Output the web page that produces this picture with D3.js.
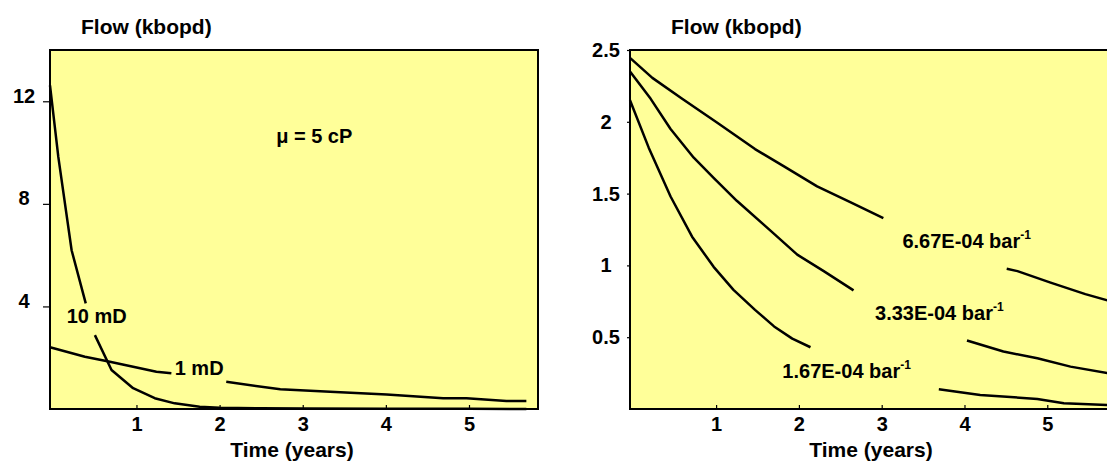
<!DOCTYPE html>
<html>
<head>
<meta charset="utf-8">
<script src="https://cdn.jsdelivr.net/npm/d3@7"></script>
<style>
  body { margin: 0; background: #fff; }
  text { font-family: "Liberation Sans", Arial, sans-serif; font-weight: bold; fill: #000; }
</style>
</head>
<body>
<svg width="1107" height="464"></svg>
<script>
// ---- data (null = break where a label sits) ----
const years10mD = [-0.04, 0.06, 0.22, 0.39, null, 0.50, 0.70, 0.96, 1.22, 1.46, 1.76, 2.0, 2.5, 3, 4, 5, 5.69];
const flow10mD  = [12.62, 9.83, 6.19, 4.12, null, 2.88, 1.52, 0.81, 0.42, 0.22, 0.09, 0.05, 0.03, 0.02, 0.01, 0.005, 0.003];

const years1mD = [-0.04, 0.38, 0.68, 0.96, 1.24, 1.42, null, 2.08, 2.73, 3.33, 4.01, 4.69, 4.97, 5.45, 5.69];
const flow1mD  = [2.41, 2.04, 1.84, 1.65, 1.45, 1.39, null, 1.06, 0.77, 0.67, 0.57, 0.42, 0.42, 0.31, 0.31];

const yearsC667 = [-0.04, 0.23, 0.59, 1.01, 1.47, 1.82, 2.22, 2.62, 3.02, null, 4.51, 4.64, 5.04, 5.46, 5.83];
const flowC667  = [2.445, 2.306, 2.16, 1.995, 1.81, 1.69, 1.55, 1.44, 1.33, null, 0.976, 0.96, 0.88, 0.80, 0.74];

const yearsC333 = [-0.04, 0.21, 0.45, 0.73, 0.97, 1.25, 1.66, 1.98, 2.30, 2.66, null, 4.03, 4.47, 4.88, 5.28, 5.83];
const flowC333  = [2.35, 2.16, 1.95, 1.75, 1.61, 1.45, 1.24, 1.075, 0.96, 0.826, null, 0.477, 0.40, 0.354, 0.295, 0.24];

const yearsC167 = [-0.04, 0.186, 0.45, 0.71, 0.97, 1.21, 1.47, 1.70, 1.92, 2.14, null, 3.69, 4.19, 4.88, 5.20, 5.83];
const flowC167  = [2.15, 1.82, 1.48, 1.20, 0.99, 0.83, 0.69, 0.575, 0.49, 0.43, null, 0.137, 0.098, 0.070, 0.040, 0.025];

const xTicks = [1, 2, 3, 4, 5];
const leftYTicks = [4, 8, 12];
const rightYTicks = [0.5, 1, 1.5, 2, 2.5];

const yTitle = 'Flow (kbopd)';
const xTitle = 'Time (years)';

const zip = (xs, ys) => xs.map((t, i) => ({t: t, v: ys[i]}));

const svg = d3.select('svg');
const fill = '#ffff99';

// builds one panel: box, axes, titles, curves
function panel(cfg) {
    const x = d3.scaleLinear().domain([-0.04, 5.83]).range([cfg.left, cfg.right]);
    const y = d3.scaleLinear().domain([0, cfg.yMax]).range([409, 50]);

    const g = svg.append('g');

    g.append('rect')
        .attr('x', cfg.left).attr('y', 50)
        .attr('width', cfg.right - cfg.left).attr('height', 359)
        .attr('fill', fill).attr('stroke', '#000').attr('stroke-width', 2);

    //X axis, ticks pointing up into the plot
    const gX = g.append('g')
        .attr('transform', `translate(0,409)`)
        .call(d3.axisBottom(x).tickValues(xTicks).tickSizeInner(-4).tickSizeOuter(0).tickFormat(d => String(d)));
    gX.select('.domain').remove();
    gX.selectAll('line').attr('stroke', '#000').attr('stroke-width', 1.2);
    gX.selectAll('text').attr('y', 8).attr('font-size', 20).attr('fill', '#000')
        .style('font-family', '"Liberation Sans", Arial, sans-serif').style('font-weight', 'bold');

    //Y axis
    const gY = g.append('g')
        .attr('transform', `translate(${cfg.left},0)`)
        .call(d3.axisLeft(y).tickValues(cfg.yTicks).tickSizeInner(cfg.tickLen).tickSizeOuter(0).tickFormat(d => String(d)));
    gY.select('.domain').remove();
    gY.selectAll('line').attr('stroke', '#000').attr('stroke-width', 1.2);
    gY.selectAll('text')
        .attr('x', -cfg.labelOff).attr('dy', cfg.labelDy)
        .attr('text-anchor', 'middle').attr('font-size', 20).attr('fill', '#000')
        .style('font-family', '"Liberation Sans", Arial, sans-serif').style('font-weight', 'bold');

    //titles
    g.append('text').text(yTitle)
        .attr('x', cfg.yTitleX).attr('y', 34).attr('font-size', 21);
    g.append('text').text(xTitle)
        .attr('x', (cfg.left + cfg.right) / 2 - 2).attr('y', 457)
        .attr('text-anchor', 'middle').attr('font-size', 21);

    const line = d3.line()
        .defined(d => d.v !== null)
        .x(d => x(d.t))
        .y(d => y(d.v));

    g.selectAll('path.curve')
        .data(cfg.series)
        .enter()
        .append('path')
        .attr('class', 'curve')
        .attr('d', d => line(d))
        .attr('fill', 'none')
        .attr('stroke', '#000')
        .attr('stroke-width', 2.5)
        .attr('stroke-linejoin', 'round');

    return {g: g, x: x, y: y};
}

const L = panel({
    left: 50, right: 538, yMax: 14, yTicks: leftYTicks,
    tickLen: 7, labelOff: 26, labelDy: '0.05em', yTitleX: 81,
    series: [zip(years10mD, flow10mD), zip(years1mD, flow1mD)]
});

const R = panel({
    left: 630, right: 1116, yMax: 2.5, yTicks: rightYTicks,
    tickLen: 3, labelOff: 24, labelDy: '0.32em', yTitleX: 671,
    series: [zip(yearsC667, flowC667), zip(yearsC333, flowC333), zip(yearsC167, flowC167)]
});

//ADD labels
L.g.append('text').text('10 mD').attr('x', L.x(0.16)).attr('y', L.y(3.35)).attr('font-size', 20);
L.g.append('text').text('1 mD').attr('x', L.x(1.46)).attr('y', L.y(1.33)).attr('font-size', 20);
L.g.append('text').text('\u03bc = 5 cP').attr('x', L.x(2.68)).attr('y', L.y(10.37)).attr('font-size', 20);

const compLabels = [
    {txt: '6.67E-04 bar', t: 3.25, v: 1.12},
    {txt: '3.33E-04 bar', t: 2.92, v: 0.62},
    {txt: '1.67E-04 bar', t: 1.80, v: 0.216}
];
compLabels.forEach(c => {
    const tx = R.g.append('text').attr('x', R.x(c.t)).attr('y', R.y(c.v)).attr('font-size', 20);
    tx.append('tspan').text(c.txt);
    tx.append('tspan').text('-1').attr('font-size', 12).attr('dy', -9);
});
</script>
</body>
</html>
